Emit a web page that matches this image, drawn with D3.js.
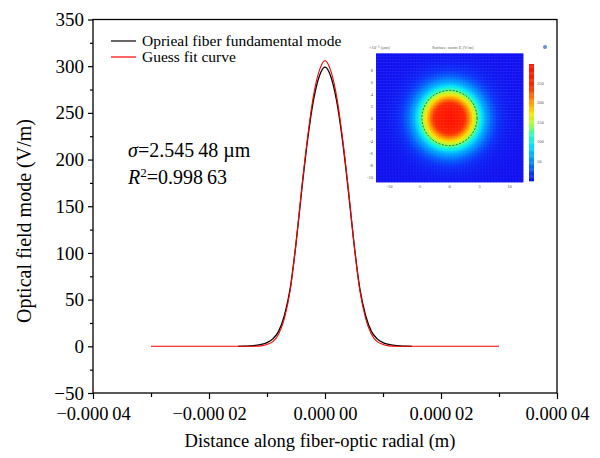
<!DOCTYPE html>
<html>
<head>
<meta charset="utf-8">
<script src="https://cdn.jsdelivr.net/npm/d3@7"></script>
<style>
  body { margin: 0; background: #fff; }
  svg text { font-family: "Liberation Serif", "Times New Roman", serif; }
</style>
</head>
<body>
<svg id="chart" width="600" height="458"></svg>
<script>
// fundamental mode profile (x in micrometres, field in V/m)
var modeX   = [-15, -14, -13, -12, -11, -10, -9, -8, -7, -6, -5, -4, -3, -2, -1, 0, 1, 2, 3, 4, 5, 6, 7, 8, 9, 10, 11, 12, 13, 14, 15];
var modeVal = [0, 0.2, 0.5, 1, 2, 4, 8, 16, 33, 62, 110, 168, 221, 263, 289, 299, 289, 263, 221, 168, 110, 62, 33, 16, 8, 4, 2, 1, 0.5, 0.2, 0];

// guess fit curve
var fitX   = [-30, -20, -13, -12, -11, -10, -9, -8, -7, -6, -5, -4, -3, -2, -1, 0, 1, 2, 3, 4, 5, 6, 7, 8, 9, 10, 11, 12, 13, 20, 30];
var fitVal = [0, 0, 0, 0, 0.5, 2, 5, 13, 30, 60, 110, 170, 224, 268, 295, 306, 295, 268, 224, 170, 110, 60, 30, 13, 5, 2, 0.5, 0, 0, 0, 0];

var xTicks = [-0.00004, -0.00002, 0, 0.00002, 0.00004];
var xTickLabels = ["\u22120.000\u200904", "\u22120.000\u200902", "0.000\u200900", "0.000\u200902", "0.000\u200904"];
var yTicks = [-50, 0, 50, 100, 150, 200, 250, 300, 350];
var yTickLabels = ["\u221250", "0", "50", "100", "150", "200", "250", "300", "350"];

var legendNames = ["Oprieal fiber fundamental mode", "Guess fit curve"];
var legendColors = ["#000", "#ff0000"];

// inset: field map ticks and colour bar
var insetXTicks = [-10, -5, 0, 5, 10];
var insetYTicks = [8, 6, 4, 2, 0, -2, -4, -6, -8, -10];
var barTicks = [50, 100, 150, 200, 250];
var jetStops  = [0, 0.05, 0.15, 0.3, 0.4, 0.48, 0.58, 0.68, 0.8, 1];
var jetColors = ["#1010f0", "#0a30f8", "#0080ff", "#00e0ff", "#30ffb0", "#a0ff40", "#ffe000", "#ff9000", "#ff2800", "#ff1000"];

var svg = d3.select("#chart");
var L = 93, R = 557, T = 19.5, B = 393;

var x = d3.scaleLinear().domain([-0.00004, 0.00004]).range([L, R]);
var y = d3.scaleLinear().domain([-50, 350]).range([B, T]);

// frame
svg.append("rect").attr("x", L).attr("y", T).attr("width", R - L).attr("height", B - T)
  .attr("fill", "none").attr("stroke", "#000").attr("stroke-width", 1.3);

// x axis
var xAxis = svg.append("g").attr("transform", "translate(0," + B + ")")
  .call(d3.axisBottom(x).tickValues(xTicks).tickSize(6).tickFormat(function(d, i) { return xTickLabels[i]; }));
xAxis.select(".domain").remove();
xAxis.selectAll("text").attr("font-size", 18.5).attr("fill", "#000").attr("dy", "0.95em");
svg.append("g").attr("transform", "translate(0," + B + ")")
  .call(d3.axisBottom(x).tickValues([-0.00003, -0.00001, 0.00001, 0.00003]).tickSize(4).tickFormat(""))
  .select(".domain").remove();

// y axis
var yAxis = svg.append("g").attr("transform", "translate(" + L + ",0)")
  .call(d3.axisLeft(y).tickValues(yTicks).tickSize(5).tickFormat(function(d, i) { return yTickLabels[i]; }));
yAxis.select(".domain").remove();
yAxis.selectAll("text").attr("font-size", 19).attr("fill", "#000").attr("x", -9);
svg.append("g").attr("transform", "translate(" + L + ",0)")
  .call(d3.axisLeft(y).tickValues([-25, 25, 75, 125, 175, 225, 275, 325]).tickSize(3).tickFormat(""))
  .select(".domain").remove();
svg.selectAll(".tick line").attr("stroke", "#000").attr("stroke-width", 1.2);

// titles
svg.append("text").attr("x", 320).attr("y", 447).attr("text-anchor", "middle")
  .attr("font-size", 18.5).text("Distance along fiber-optic radial (m)");
svg.append("text").attr("transform", "translate(31,221) rotate(-90)").attr("text-anchor", "middle")
  .attr("font-size", 20).text("Optical field mode (V/m)");

// curves
var line = d3.line().x(function(d) { return x(d[0] * 1e-6); }).y(function(d) { return y(d[1]); })
  .curve(d3.curveMonotoneX);
svg.append("path").datum(d3.zip(modeX, modeVal)).attr("d", line)
  .attr("fill", "none").attr("stroke", "#000").attr("stroke-width", 1.3);
svg.append("path").datum(d3.zip(fitX, fitVal)).attr("d", line)
  .attr("fill", "none").attr("stroke", "#ff0000").attr("stroke-width", 1.1);

// legend
legendNames.forEach(function(name, i) {
  var ly = 41 + i * 16;
  svg.append("line").attr("x1", 111).attr("x2", 136).attr("y1", ly).attr("y2", ly)
    .attr("stroke", legendColors[i]).attr("stroke-width", 1.2);
  svg.append("text").attr("x", 142).attr("y", ly + 5).attr("font-size", 15.5).text(name);
});

// annotation
var t1 = svg.append("text").attr("x", 128).attr("y", 157).attr("font-size", 20);
t1.append("tspan").attr("font-style", "italic").text("\u03c3");
t1.append("tspan").text("=2.545\u200948 \u00b5m");
var t2 = svg.append("text").attr("x", 128).attr("y", 184).attr("font-size", 20);
t2.append("tspan").attr("font-style", "italic").text("R");
t2.append("tspan").attr("font-size", 13).attr("dy", -7).text("2");
t2.append("tspan").attr("dy", 7).text("=0.998\u200963");

// inset field map, built from the mode profile
var ix = d3.scaleLinear().domain([-12.25, 12.25]).range([376, 523]);
var iy = d3.scaleLinear().domain([10.7, -10.7]).range([54, 182]);
var prof = d3.scaleLinear().domain(modeX.slice(15)).range(modeVal.slice(15)).clamp(true);
var jet = d3.scaleLinear().domain(jetStops).range(jetColors);
var step = 0.25;
var cells = [];
for (var cx = -12.25; cx < 12.25; cx += step) {
  for (var cy = -10.7; cy < 10.7; cy += step) {
    cells.push([cx, cy, prof(Math.hypot(cx + step / 2, cy + step / 2)) / 299]);
  }
}
var inset = svg.append("g");
inset.selectAll("rect.cell").data(cells).enter().append("rect")
  .attr("x", function(d) { return ix(d[0]); })
  .attr("y", function(d) { return iy(d[1] + step); })
  .attr("width", ix(step) - ix(0) + 0.4)
  .attr("height", iy(0) - iy(step) + 0.4)
  .attr("fill", function(d) { return jet(d[2]); });
inset.append("circle").attr("cx", ix(0)).attr("cy", iy(0)).attr("r", ix(4.6) - ix(0))
  .attr("fill", "none").attr("stroke", "#222").attr("stroke-width", 0.7).attr("stroke-dasharray", "2,1.5");

inset.selectAll("text.ixt").data(insetXTicks).enter().append("text")
  .attr("x", function(d) { return ix(d); }).attr("y", 188).attr("text-anchor", "middle")
  .attr("font-size", 4.5).attr("fill", "#555").text(function(d) { return d; });
inset.selectAll("text.iyt").data(insetYTicks).enter().append("text")
  .attr("x", 373).attr("y", function(d) { return iy(d) + 1.5; }).attr("text-anchor", "end")
  .attr("font-size", 4.5).attr("fill", "#555").text(function(d) { return d; });
inset.append("text").attr("x", 369).attr("y", 49).attr("font-size", 4.5).attr("fill", "#666").text("\u00d710\u207b\u2076 (\u00b5m)");
inset.append("text").attr("x", 432).attr("y", 49).attr("font-size", 4.5).attr("fill", "#666").text("Surface: norm E (V/m)");

// colour bar
var cb = d3.scaleLinear().domain([0, 1]).range([181, 64]);
var barSteps = d3.range(0, 1, 0.01);
inset.selectAll("rect.cb").data(barSteps).enter().append("rect")
  .attr("x", 529).attr("width", 5)
  .attr("y", function(d) { return cb(d + 0.01); })
  .attr("height", cb(0) - cb(0.01) + 0.3)
  .attr("fill", function(d) { return jet(d); });
inset.selectAll("text.cbt").data(barTicks).enter().append("text")
  .attr("x", 537).attr("y", function(d) { return cb(d / 299) + 1.5; })
  .attr("font-size", 4.5).attr("fill", "#555").text(function(d) { return d; });
inset.append("circle").attr("cx", 545).attr("cy", 47).attr("r", 2).attr("fill", "#6a8ccf");
</script>
</body>
</html>
